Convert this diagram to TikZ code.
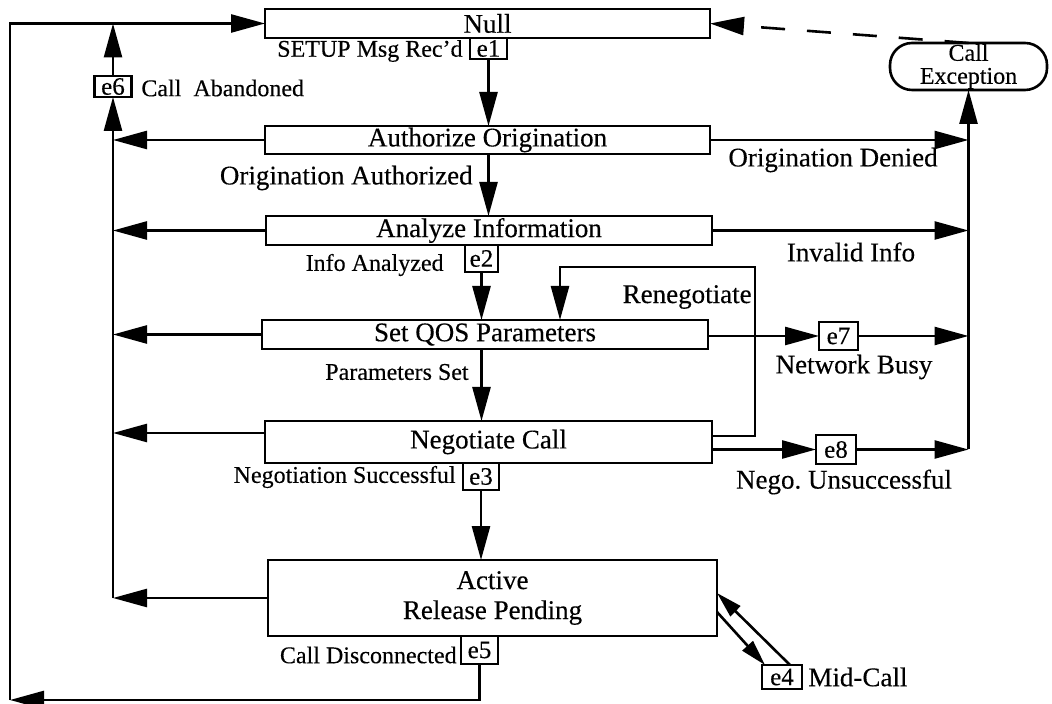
\documentclass[tikz,border=0pt]{standalone}
\usepackage{fontspec}
\setmainfont{Liberation Serif}[FakeBold=0.3]
\usetikzlibrary{arrows.meta}
\newcommand\fbig{\fontsize{13.5}{15}\selectfont}
\newcommand\fsmall{\fontsize{12}{12}\selectfont}
\newcommand\fev{\fontsize{12.5}{12}\selectfont}
\begin{document}
\begin{tikzpicture}[x=0.5pt,y=-0.5pt]
\tikzset{
  stbox/.style={draw, line width=1.3pt, inner sep=0pt, outer sep=0pt, font=\fbig, fill=white},
  evbox/.style={draw, line width=1.2pt, inner sep=0pt, outer sep=0pt, font=\fev, fill=white},
  lbl/.style={inner sep=0pt, font=\fsmall},
  lblb/.style={inner sep=0pt, font=\fbig},
  ln/.style={line width=1.3pt},
  arr/.style={ln, -{Triangle[length=17pt,width=9pt]}},
  arrs/.style={ln, -{Triangle[length=13pt,width=7pt]}},
}
\useasboundingbox (0,0) rectangle (1052,704);

% state boxes
\node[stbox, minimum width=222.5pt, minimum height=14.5pt] (null)   at (487.5,23.5) {Null};
\node[stbox, minimum width=222.5pt, minimum height=14pt]   (auth)   at (487.5,140)  {Authorize Origination};
\node[stbox, minimum width=223pt,   minimum height=14.5pt] (anal)   at (489,230.5)  {Analyze Information};
\node[stbox, minimum width=223pt,   minimum height=14.5pt] (qos)    at (485,334.5)  {Set QOS Parameters};
\node[stbox, minimum width=223.5pt, minimum height=21pt]   (nego)   at (488.5,442)  {Negotiate Call};
\node[stbox, minimum width=224.5pt, minimum height=38pt, align=center, font=\fontsize{13.5}{15}\selectfont]
      (active) at (492.5,598) {Active\\Release Pending};
\node[draw, line width=1.3pt, rounded corners=11pt, inner sep=0pt, outer sep=0pt,
      minimum width=78.5pt, minimum height=23.5pt, align=center,
      font=\fontsize{12}{11.5}\selectfont] (callex) at (968.5,66.5) {Call\\Exception};

% event boxes
\node[evbox, minimum width=18.5pt, minimum height=10.5pt] (e1) at (488.5,48.5) {e1};
\node[evbox, minimum width=18.5pt, minimum height=10.5pt] (e6) at (113,86.5)   {e6};
\node[evbox, minimum width=16.5pt, minimum height=13.5pt] (e2) at (481.5,258.5) {e2};
\node[evbox, minimum width=18pt,   minimum height=13.5pt] (e3) at (481,476.5)  {e3};
\node[evbox, minimum width=18.5pt, minimum height=14pt]   (e5) at (479.5,650)  {e5};
\node[evbox, minimum width=20pt,   minimum height=12pt]   (e4) at (782,677)    {e4};
\node[evbox, minimum width=19.5pt, minimum height=14pt]   (e7) at (838.5,336)  {e7};
\node[evbox, minimum width=20pt,   minimum height=14.5pt] (e8) at (836,449.5)  {e8};

% labels
\node[lbl, anchor=east] (lsetup) at (463,51)  {SETUP Msg Rec'd};
\node[lbl, anchor=west] (laband) at (141,88)  {Call~~Abandoned};
\node[lblb, anchor=east] (lorau) at (473,178) {Origination Authorized};
\node[lblb] (lorden) at (833,160) {Origination Denied};
\node[lblb] (linval) at (851,252) {Invalid Info};
\node[lbl, anchor=east] (linfo) at (444,265) {Info Analyzed};
\node[lblb, anchor=east] (lreneg) at (752,297) {Renegotiate};
\node[lblb] (lbusy) at (854,367) {Network Busy};
\node[lbl, anchor=east] (lparam) at (469,372) {Parameters Set};
\node[lbl, anchor=east] (lnsucc) at (456,477) {Negotiation Successful};
\node[lblb] (lnuns) at (844,482) {Nego.\ Unsuccessful};
\node[lbl, anchor=east] (ldisc) at (457,655) {Call Disconnected};
\node[lblb, anchor=west] (lmid) at (808,677) {Mid-Call};

% helper coordinates
\coordinate (colx) at (113,0);
\coordinate (outerB) at (10,700);
\coordinate (yNegL) at (0,433);
\coordinate (yReneg) at (0,436);
\coordinate (rnR) at (755,267);
\coordinate (rnL) at (560,267);
\coordinate (m1) at (0,612);
\coordinate (m2) at (0,593);

% main downward flow
\draw[arr] (e1.south) -- (e1.south |- auth.north);
\draw[arr] (auth.south -| e1.south) -- (anal.north -| e1.south);
\draw[arr] (e2.south) -- (e2.south |- qos.north);
\draw[arr] (qos.south -| e2.south) -- (nego.north -| e2.south);
\draw[arr] (e3.south) -- (e3.south |- active.north);

% abandon column on the left
\draw[arr] (auth.west) -- (auth.west -| colx);
\draw[arr] (anal.west) -- (anal.west -| colx);
\draw[arr] (qos.west) -- (qos.west -| colx);
\draw[arr] (nego.west |- yNegL) -- (yNegL -| colx);
\draw[arr] (active.west) -- (active.west -| colx);
\draw[arr] (active.west -| colx) -- (e6.south);
\draw[arr] (e6.north) -- (e6.north |- null.west);

% disconnect loop back to Null
\draw[arr] (e5.south) |- (outerB);
\draw[arr] (outerB) |- (null.west);

% exception column on the right
\draw[arr] (auth.east) -- (auth.east -| callex.south);
\draw[arr] (anal.east) -- (anal.east -| callex.south);
\draw[arr] (e7.west -| qos.east) -- (e7.west);
\draw[arr] (e7.east) -- (e7.east -| callex.south);
\draw[arr] (e8.west -| nego.east) -- (e8.west);
\draw[arr] (e8.east) -- (e8.east -| callex.south);
\draw[arr] (e8.east -| callex.south) -- (callex.south);
\draw[arr, dash pattern=on 12pt off 11pt] (callex.north) -- (null.east);

% renegotiation loop
\draw[arr] (nego.east |- yReneg) -| (rnR) -- (rnL) -- (qos.north -| rnL);

% mid-call events
\draw[arrs] (active.east |- m1) -- ([xshift=1.5pt]e4.north west);
\draw[arrs] ([xshift=4pt]e4.north) -- (active.east |- m2);
\end{tikzpicture}
\end{document}
